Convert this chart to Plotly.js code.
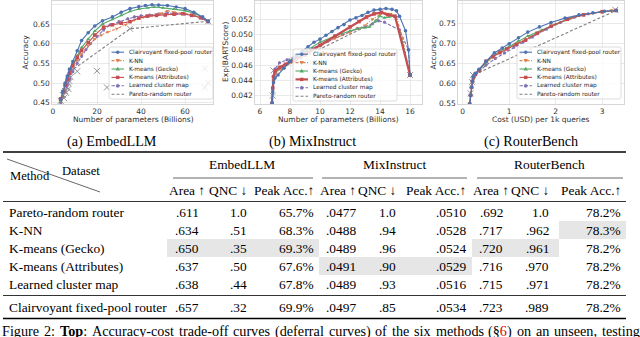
<!DOCTYPE html>
<html>
<head>
<meta charset="utf-8">
<script src="https://cdn.plot.ly/plotly-3.0.1.min.js"></script>
<style>
  html, body { margin: 0; padding: 0; background: #fff; }
  #chart { width: 640px; height: 337px; }
</style>
</head>
<body>
<div id="chart"></div>
<script>
// ---------- series names / styles ----------
const methods = ['Clairvoyant fixed-pool router', 'K-NN', 'K-means (Gecko)', 'K-means (Attributes)', 'Learned cluster map', 'Pareto-random router']
const colors = ['#4C72B0', '#DD8452', '#55A868', '#C44E52', '#8172B3', '#808080']
const symbols = ['circle', 'triangle-down', 'triangle-up', 'square', 'pentagon', null]
const dashes = ['solid', '3px,1.5px,1px,1.5px', 'solid', 'solid', '3.5px,1.5px', '3px,2px']

// ---------- (a) EmbedLLM ----------
const embedClairX = [3.5, 4.5, 5.5, 6.5, 7.5, 9, 11, 13, 16, 19, 22.5, 27, 31, 35, 39, 42, 45, 48, 52, 56, 60, 64, 68, 70.5]
const embedClairY = [0.458, 0.48, 0.50, 0.518, 0.535, 0.555, 0.582, 0.608, 0.628, 0.645, 0.658, 0.668, 0.680, 0.689, 0.694, 0.697, 0.699, 0.698, 0.697, 0.693, 0.689, 0.680, 0.668, 0.657]
const embedKnnX = [3.5, 4.5, 5.5, 6.5, 7.5, 9, 11, 13, 16, 19, 22, 25, 29, 33, 37, 41, 45, 49, 52, 55, 59, 63, 67, 70.5]
const embedKnnY = [0.455, 0.475, 0.493, 0.508, 0.522, 0.54, 0.558, 0.575, 0.595, 0.612, 0.622, 0.630, 0.638, 0.648, 0.660, 0.667, 0.671, 0.677, 0.683, 0.680, 0.677, 0.674, 0.668, 0.657]
const embedGeckoX = [3.5, 4.5, 5.5, 6.5, 7.5, 9, 11, 13, 16, 19, 22.5, 27, 31, 35, 39, 43, 46, 50, 55, 60, 65, 70.5]
const embedGeckoY = [0.455, 0.475, 0.495, 0.512, 0.528, 0.548, 0.570, 0.590, 0.612, 0.632, 0.650, 0.662, 0.672, 0.682, 0.688, 0.691, 0.693, 0.691, 0.688, 0.684, 0.676, 0.658]
const embedAttrX = [3.5, 4.5, 5.5, 6.5, 7.5, 9, 11, 13, 16, 19, 23, 27, 31, 35, 39, 43, 47, 51, 55, 59, 63, 67, 70.5]
const embedAttrY = [0.46, 0.478, 0.495, 0.51, 0.525, 0.545, 0.565, 0.583, 0.603, 0.622, 0.642, 0.648, 0.652, 0.656, 0.665, 0.670, 0.672, 0.673, 0.675, 0.676, 0.672, 0.666, 0.657]
const embedLearnX = [3.5, 4.5, 5.5, 6.5, 7.5, 9, 11, 13, 15, 17, 20, 23, 26, 30, 34, 37, 40, 44, 48, 52, 56, 60, 64, 68, 70.5]
const embedLearnY = [0.45, 0.465, 0.48, 0.495, 0.51, 0.53, 0.55, 0.568, 0.585, 0.60, 0.618, 0.635, 0.648, 0.656, 0.663, 0.668, 0.671, 0.673, 0.675, 0.678, 0.676, 0.675, 0.672, 0.664, 0.655]
const embedParetoX = [3.5, 4.5, 5.5, 6.5, 7.5, 8.5, 35, 70.5]
const embedParetoY = [0.455, 0.47, 0.485, 0.50, 0.515, 0.532, 0.638, 0.657]
const embedModelsX = [3.5, 4.5, 5, 5.5, 6, 6.5, 7, 7, 7.5, 8, 8.5, 11, 20, 24.5, 35, 69, 70.5, 69, 70.5]
const embedModelsY = [0.455, 0.47, 0.462, 0.48, 0.475, 0.49, 0.50, 0.485, 0.505, 0.515, 0.532, 0.53, 0.531, 0.489, 0.638, 0.537, 0.501, 0.489, 0.657]

// ---------- (b) MixInstruct ----------
const mixClairX = [6.8, 6.85, 6.9, 7.0, 7.2, 7.6, 8.0, 8.4, 8.8, 9.2, 9.6, 10.0, 10.4, 10.8, 11.2, 11.6, 12.0, 12.4, 12.8, 13.2, 13.6, 14.0, 14.4, 14.8, 15.1, 15.3, 15.7, 15.9, 16.0]
const mixClairY = [0.0410, 0.0425, 0.0437, 0.0443, 0.0447, 0.0456, 0.0465, 0.0472, 0.0478, 0.0484, 0.0490, 0.0494, 0.0499, 0.0504, 0.0509, 0.0513, 0.0519, 0.0522, 0.0525, 0.0529, 0.0532, 0.0533, 0.0534, 0.0533, 0.0531, 0.0524, 0.0505, 0.0480, 0.0447]
const mixKnnX = [6.8, 6.9, 7.0, 7.5, 8, 9, 10, 11, 12, 12.5, 13, 13.5, 14, 14.3, 14.7, 15.1, 15.5, 16]
const mixKnnY = [0.0410, 0.0440, 0.0448, 0.0456, 0.0463, 0.0474, 0.0485, 0.0495, 0.0503, 0.0508, 0.0512, 0.0520, 0.0526, 0.0528, 0.0527, 0.0523, 0.0495, 0.0447]
const mixGeckoX = [6.8, 6.9, 7.0, 7.5, 8, 9, 10, 11, 12, 12.5, 13.0, 13.3, 13.7, 14.0, 14.3, 14.6, 15.0, 15.5, 16]
const mixGeckoY = [0.0410, 0.0440, 0.0450, 0.0458, 0.0466, 0.0478, 0.0490, 0.0498, 0.0505, 0.0508, 0.0509, 0.0510, 0.0518, 0.0524, 0.0522, 0.0523, 0.0524, 0.0490, 0.0447]
const mixAttrX = [6.8, 6.85, 6.9, 7.0, 7.3, 7.7, 8.2, 9.0, 10.0, 11.0, 12.0, 12.6, 13.1, 13.6, 14.1, 14.5, 15.0, 16.0]
const mixAttrY = [0.0410, 0.0430, 0.0445, 0.0452, 0.0457, 0.0461, 0.0466, 0.0474, 0.0486, 0.0498, 0.0510, 0.0517, 0.0523, 0.0527, 0.0529, 0.0526, 0.0524, 0.0447]
const mixLearnX = [6.8, 6.85, 6.9, 7.0, 7.3, 7.8, 8.5, 9.5, 10.5, 11.5, 12.5, 13.0, 13.5, 13.9, 14.3, 15.3, 15.9, 16]
const mixLearnY = [0.0410, 0.0430, 0.0445, 0.0455, 0.0463, 0.0467, 0.0472, 0.0482, 0.0491, 0.0500, 0.0508, 0.0510, 0.0514, 0.0518, 0.0516, 0.0506, 0.0480, 0.0447]
const mixParetoX = [6.8, 6.9, 7.0, 13.0]
const mixParetoY = [0.0410, 0.0440, 0.0452, 0.0510]
const mixModelsX = [6.85, 6.9, 13.1, 16.0]
const mixModelsY = [0.0420, 0.0453, 0.0438, 0.0447]

// ---------- (c) RouterBench ----------
const rbClairX = [0.15, 0.17, 0.19, 0.21, 0.23, 0.27, 0.35, 0.5, 0.68, 0.85, 1.0, 1.2, 1.4, 1.65, 1.9, 2.2, 2.5, 2.8, 3.05, 3.3]
const rbClairY = [0.548, 0.57, 0.59, 0.605, 0.617, 0.625, 0.635, 0.655, 0.676, 0.688, 0.699, 0.714, 0.728, 0.741, 0.752, 0.763, 0.771, 0.776, 0.780, 0.782]
const rbKnnX = [0.15, 0.17, 0.19, 0.21, 0.23, 0.27, 0.35, 0.5, 0.65, 0.8, 1.0, 1.2, 1.45, 1.7, 2.0, 2.3, 2.6, 3.0, 3.2, 3.3]
const rbKnnY = [0.548, 0.57, 0.588, 0.603, 0.614, 0.622, 0.632, 0.652, 0.665, 0.676, 0.689, 0.702, 0.717, 0.731, 0.747, 0.762, 0.772, 0.779, 0.783, 0.782]
const rbGeckoX = [0.15, 0.17, 0.19, 0.21, 0.23, 0.27, 0.35, 0.5, 0.65, 0.8, 1.0, 1.2, 1.4, 1.7, 2.0, 2.3, 2.6, 3.0, 3.3]
const rbGeckoY = [0.548, 0.57, 0.59, 0.605, 0.615, 0.623, 0.632, 0.652, 0.668, 0.680, 0.692, 0.706, 0.718, 0.733, 0.748, 0.762, 0.772, 0.779, 0.782]
const rbAttrX = [0.15, 0.17, 0.19, 0.21, 0.23, 0.27, 0.35, 0.5, 0.65, 0.8, 0.95, 1.15, 1.35, 1.6, 1.9, 2.25, 2.6, 3.0, 3.3]
const rbAttrY = [0.548, 0.57, 0.59, 0.605, 0.615, 0.622, 0.632, 0.655, 0.667, 0.677, 0.686, 0.697, 0.708, 0.725, 0.743, 0.760, 0.771, 0.779, 0.782]
const rbLearnX = [0.15, 0.17, 0.19, 0.21, 0.24, 0.3, 0.37, 0.5, 0.7, 0.9, 1.1, 1.3, 1.5, 1.8, 2.1, 2.4, 2.7, 3.0, 3.3]
const rbLearnY = [0.548, 0.57, 0.59, 0.605, 0.617, 0.625, 0.631, 0.645, 0.662, 0.676, 0.690, 0.703, 0.716, 0.735, 0.752, 0.765, 0.774, 0.779, 0.782]
const rbParetoX = [0.15, 0.17, 0.19, 0.21, 0.25, 3.3]
const rbParetoY = [0.548, 0.57, 0.59, 0.605, 0.622, 0.782]
const rbModelsX = [0.17, 0.2, 0.22, 3.28]
const rbModelsY = [0.575, 0.603, 0.621, 0.784]

// ---------- table ----------
const tableMethods = ['Pareto-random router', 'K-NN', 'K-means (Gecko)', 'K-means (Attributes)', 'Learned cluster map', 'Clairvoyant fixed-pool router']
const datasets = ['EmbedLLM', 'MixInstruct', 'RouterBench']
const metricHeaders = ['Area ↑', 'QNC ↓', 'Peak Acc.↑']
const embedArea = ['.611', '.634', '.650', '.637', '.638', '.657']
const embedQnc = ['1.0', '.51', '.35', '.50', '.44', '.32']
const embedPeak = ['65.7%', '68.3%', '69.3%', '67.6%', '67.8%', '69.9%']
const mixArea = ['.0477', '.0488', '.0489', '.0491', '.0489', '.0497']
const mixQnc = ['1.0', '.94', '.96', '.90', '.93', '.85']
const mixPeak = ['.0510', '.0528', '.0524', '.0529', '.0516', '.0534']
const rbArea = ['.692', '.717', '.720', '.716', '.715', '.723']
const rbQnc = ['1.0', '.962', '.961', '.970', '.971', '.989']
const rbPeak = ['78.2%', '78.3%', '78.2%', '78.2%', '78.2%', '78.2%']
// shaded cells: [row, column]
const shaded = [[1, 8], [2, 0], [2, 1], [2, 2], [2, 6], [2, 7], [3, 3], [3, 4], [3, 5]]

// caption words (the source line is justified)
const captionWords = ['Figure', '2:', 'Top:', 'Accuracy-cost', 'trade-off', 'curves', '(deferral', 'curves)', 'of', 'the',
    'six', 'methods', '(§6)', 'on', 'an', 'unseen,', 'testing']

// ---------- helpers ----------
const W = 640, H = 337
const px = x => x / W
const py = y => 1 - y / H
const pt = (x, y) => px(x).toFixed(5) + ',' + py(y).toFixed(5)

function curve(x, y, i, ax, width) {
    return {
        x, y, xaxis: ax[0], yaxis: ax[1], type: 'scatter',
        mode: symbols[i] ? 'lines+markers' : 'lines',
        line: {color: colors[i], width: width || 1.1, dash: dashes[i]},
        marker: {symbol: symbols[i] || 'circle', size: 3.6, color: colors[i]},
        hoverinfo: 'skip'
    }
}

function models(x, y, ax) {
    return {
        x, y, xaxis: ax[0], yaxis: ax[1], type: 'scatter', mode: 'markers',
        marker: {symbol: 'x-thin', size: 6, line: {color: '#8a8a8a', width: 0.9}},
        hoverinfo: 'skip'
    }
}

function panelTraces(ax, sets, attrWidth) {
    // sets in method order: clair, knn, gecko, attr, learn, pareto, models
    return [
        curve(sets[5][0], sets[5][1], 5, ax),
        models(sets[6][0], sets[6][1], ax),
        curve(sets[4][0], sets[4][1], 4, ax),
        curve(sets[1][0], sets[1][1], 1, ax),
        curve(sets[2][0], sets[2][1], 2, ax),
        curve(sets[3][0], sets[3][1], 3, ax, attrWidth),
        curve(sets[0][0], sets[0][1], 0, ax)
    ]
}

const data = [
    ...panelTraces(['x', 'y'], [[embedClairX, embedClairY], [embedKnnX, embedKnnY], [embedGeckoX, embedGeckoY],
        [embedAttrX, embedAttrY], [embedLearnX, embedLearnY], [embedParetoX, embedParetoY], [embedModelsX, embedModelsY]]),
    ...panelTraces(['x2', 'y2'], [[mixClairX, mixClairY], [mixKnnX, mixKnnY], [mixGeckoX, mixGeckoY],
        [mixAttrX, mixAttrY], [mixLearnX, mixLearnY], [mixParetoX, mixParetoY], [mixModelsX, mixModelsY]], 2.2),
    ...panelTraces(['x3', 'y3'], [[rbClairX, rbClairY], [rbKnnX, rbKnnY], [rbGeckoX, rbGeckoY],
        [rbAttrX, rbAttrY], [rbLearnX, rbLearnY], [rbParetoX, rbParetoY], [rbModelsX, rbModelsY]])
]

const axisStyle = {
    showgrid: true, gridcolor: '#e4e4e4', gridwidth: 0.8,
    showline: true, linecolor: '#cccccc', linewidth: 0.8, mirror: true,
    ticks: '', zeroline: false, fixedrange: true,
    tickfont: {family: 'DejaVu Sans', size: 7.5, color: '#303030'}
}
const plotTop = 1, plotBottom = 104
const yDomain = [py(plotBottom), py(plotTop)]

const shapes = []
const annotations = []
const serif = {family: 'Liberation Serif', size: 13.4, color: '#000'}
const captionFont = {family: 'Liberation Serif', size: 14.2, color: '#000'}

function text(x, y, t, opts) {
    annotations.push(Object.assign({
        x: px(x), y: py(y), xref: 'paper', yref: 'paper', text: t, showarrow: false,
        xanchor: 'center', yanchor: 'middle', font: serif
    }, opts || {}))
}

// axis titles
const chartFont = {family: 'DejaVu Sans', size: 7.5, color: '#303030'}
text(25, 52.5, 'Accuracy', {textangle: -90, font: chartFont})
text(225.5, 52.5, 'Exp(BARTScore)', {textangle: -90, font: chartFont})
text(433, 52.5, 'Accuracy', {textangle: -90, font: chartFont})
text(133, 119, 'Number of parameters (Billions)', {font: chartFont})
text(338.5, 119, 'Number of parameters (Billions)', {font: chartFont})
text(541, 119, 'Cost (USD) per 1k queries', {font: chartFont})

// subfigure captions
text(112, 141, '(a) EmbedLLM', {font: captionFont})
text(312, 141, '(b) MixInstruct', {font: captionFont})
text(531, 141, '(c) RouterBench', {font: captionFont})

// ---------- hand-drawn legends ----------
function roundRect(x0, y0, x1, y1, r) {
    return 'M' + pt(x0 + r, y0) + 'L' + pt(x1 - r, y0) + 'Q' + pt(x1, y0) + ' ' + pt(x1, y0 + r) +
        'L' + pt(x1, y1 - r) + 'Q' + pt(x1, y1) + ' ' + pt(x1 - r, y1) +
        'L' + pt(x0 + r, y1) + 'Q' + pt(x0, y1) + ' ' + pt(x0, y1 - r) +
        'L' + pt(x0, y0 + r) + 'Q' + pt(x0, y0) + ' ' + pt(x0 + r, y0) + 'Z'
}

function polyPath(pts) {
    return 'M' + pts.map(p => pt(p[0], p[1])).join('L') + 'Z'
}

function markerShape(sym, cx, cy, color) {
    const s = 1.7
    let pts
    if (sym === 'circle') {
        return {type: 'circle', xref: 'paper', yref: 'paper', layer: 'above',
            x0: px(cx - s), x1: px(cx + s), y0: py(cy + s), y1: py(cy - s), fillcolor: color, line: {width: 0}}
    }
    if (sym === 'square') pts = [[cx - s, cy - s], [cx + s, cy - s], [cx + s, cy + s], [cx - s, cy + s]]
    if (sym === 'triangle-up') pts = [[cx, cy - 2.2], [cx + 2.2, cy + 1.6], [cx - 2.2, cy + 1.6]]
    if (sym === 'triangle-down') pts = [[cx, cy + 2.2], [cx + 2.2, cy - 1.6], [cx - 2.2, cy - 1.6]]
    if (sym === 'pentagon') pts = [0, 1, 2, 3, 4].map(k => [cx + 2.1 * Math.sin(k * 2 * Math.PI / 5), cy - 2.1 * Math.cos(k * 2 * Math.PI / 5)])
    return {type: 'path', xref: 'paper', yref: 'paper', layer: 'above', path: polyPath(pts), fillcolor: color, line: {width: 0}}
}

function legend(x0, y0, attrWidth) {
    const w = 104, h = 52, gap = 8.4
    shapes.push({type: 'path', xref: 'paper', yref: 'paper', layer: 'above', path: roundRect(x0, y0, x0 + w, y0 + h, 2),
        fillcolor: 'rgba(255,255,255,0.8)', line: {color: '#d4d4d4', width: 0.8}})
    methods.forEach((m, i) => {
        const cy = y0 + 5.2 + i * gap
        shapes.push({type: 'line', xref: 'paper', yref: 'paper', layer: 'above',
            x0: px(x0 + 2.5), x1: px(x0 + 15), y0: py(cy), y1: py(cy),
            line: {color: colors[i], width: i === 3 && attrWidth ? attrWidth : 1.1, dash: dashes[i]}})
        if (symbols[i]) shapes.push(markerShape(symbols[i], x0 + 8.75, cy, colors[i]))
        text(x0 + 18, cy, m, {xanchor: 'left', font: {family: 'DejaVu Sans', size: 5.8, color: '#262626'}})
    })
}
legend(109, 47)
legend(293, 49, 2.2)
legend(517, 47)

// ---------- table ----------
const rowY = [212, 230, 248, 266, 284, 307]
const colX = [187, 249, 316, 358, 398, 468, 491, 551, 623]
const colAlign = ['center', 'right', 'right', 'right', 'right', 'right', 'center', 'right', 'right']
const cellEdges = [167, 208, 254, 319, 362, 404, 472, 512, 559, 626]
const groupCenter = [242, 395, 549]
const groupRule = [[173, 313], [322, 467], [477, 623]]
const columns = [embedArea, embedQnc, embedPeak, mixArea, mixQnc, mixPeak, rbArea, rbQnc, rbPeak]

shaded.forEach(([r, c]) => {
    shapes.push({type: 'rect', xref: 'paper', yref: 'paper', layer: 'below',
        x0: px(cellEdges[c]), x1: px(cellEdges[c + 1]), y0: py(rowY[r] + 9), y1: py(rowY[r] - 9),
        fillcolor: '#e6e6e6', line: {width: 0}})
})

function hrule(y, x0, x1, w) {
    shapes.push({type: 'line', xref: 'paper', yref: 'paper', x0: px(x0), x1: px(x1), y0: py(y), y1: py(y),
        line: {color: '#000', width: w}})
}
hrule(152, 3, 626, 1.3)
groupRule.forEach(g => hrule(178, g[0], g[1], 0.6))
hrule(201.5, 3, 626, 0.8)
hrule(295.5, 3, 626, 0.8)
hrule(318.5, 3, 626, 1.3)
shapes.push({type: 'line', xref: 'paper', yref: 'paper', x0: px(7), x1: px(100), y0: py(159), y1: py(192),
    line: {color: '#000', width: 0.6}})

const smallSerif = {family: 'Liberation Serif', size: 12.6, color: '#000'}
text(8, 176, 'Method', {xanchor: 'left', font: smallSerif})
text(60, 171, 'Dataset', {xanchor: 'left', font: smallSerif})
datasets.forEach((d, g) => text(groupCenter[g], 165, d))
colX.forEach((x, c) => text(x, 190, metricHeaders[c % 3], {xanchor: colAlign[c]}))

tableMethods.forEach((m, r) => {
    text(7, rowY[r], m, {xanchor: 'left'})
    columns.forEach((col, c) => text(colX[c], rowY[r], col[r], {xanchor: colAlign[c]}))
})

// justified caption line: measure words, spread the gaps over the full width
const ctx = document.createElement('canvas').getContext('2d')
const measure = (s, bold) => {
    ctx.font = (bold ? 'bold ' : '') + captionFont.size + 'px "Liberation Serif"'
    return ctx.measureText(s).width
}
const wordWidths = captionWords.map(w => w === 'Top:' ? measure('Top', true) + measure(':') : measure(w))
const lineStart = 1, lineEnd = 639
const wordGap = (lineEnd - lineStart - wordWidths.reduce((a, b) => a + b, 0)) / (captionWords.length - 1)
let cursor = lineStart
captionWords.forEach((w, k) => {
    let label = w
    if (w === 'Top:') label = '<b>Top</b>:'
    if (w === '(§6)') label = '(§<span style="color:#e00000">6</span>)'
    text(cursor, 331, label, {xanchor: 'left', font: captionFont, borderpad: 0})
    cursor += wordWidths[k] + wordGap
})

const layout = {
    width: W, height: H,
    margin: {l: 0, r: 0, t: 0, b: 0},
    paper_bgcolor: '#ffffff', plot_bgcolor: '#ffffff',
    showlegend: false,
    font: chartFont,
    xaxis: Object.assign({}, axisStyle, {domain: [px(52), px(213)], anchor: 'y', range: [-0.45, 72.7], tickvals: [0, 20, 40, 60]}),
    yaxis: Object.assign({}, axisStyle, {domain: yDomain, anchor: 'x', range: [0.447, 0.7084],
        tickvals: [0.45, 0.50, 0.55, 0.60, 0.65, 0.70], tickformat: '.2f'}),
    xaxis2: Object.assign({}, axisStyle, {domain: [px(255), px(422)], anchor: 'y2', range: [5.667, 16.8], tickvals: [6, 8, 10, 12, 14, 16]}),
    yaxis2: Object.assign({}, axisStyle, {domain: yDomain, anchor: 'x2', range: [0.04091, 0.05439],
        tickvals: [0.042, 0.044, 0.046, 0.048, 0.050, 0.052, 0.054], tickformat: '.3f'}),
    xaxis3: Object.assign({}, axisStyle, {domain: [px(458), px(624)], anchor: 'y3', range: [-0.101, 3.469], tickvals: [0, 1, 2, 3]}),
    yaxis3: Object.assign({}, axisStyle, {domain: yDomain, anchor: 'x3', range: [0.5483, 0.8058],
        tickvals: [0.55, 0.60, 0.65, 0.70, 0.75, 0.80], tickformat: '.2f'}),
    shapes: shapes,
    annotations: annotations
}

Plotly.newPlot('chart', data, layout, {displayModeBar: false, staticPlot: true})
</script>
</body>
</html>
